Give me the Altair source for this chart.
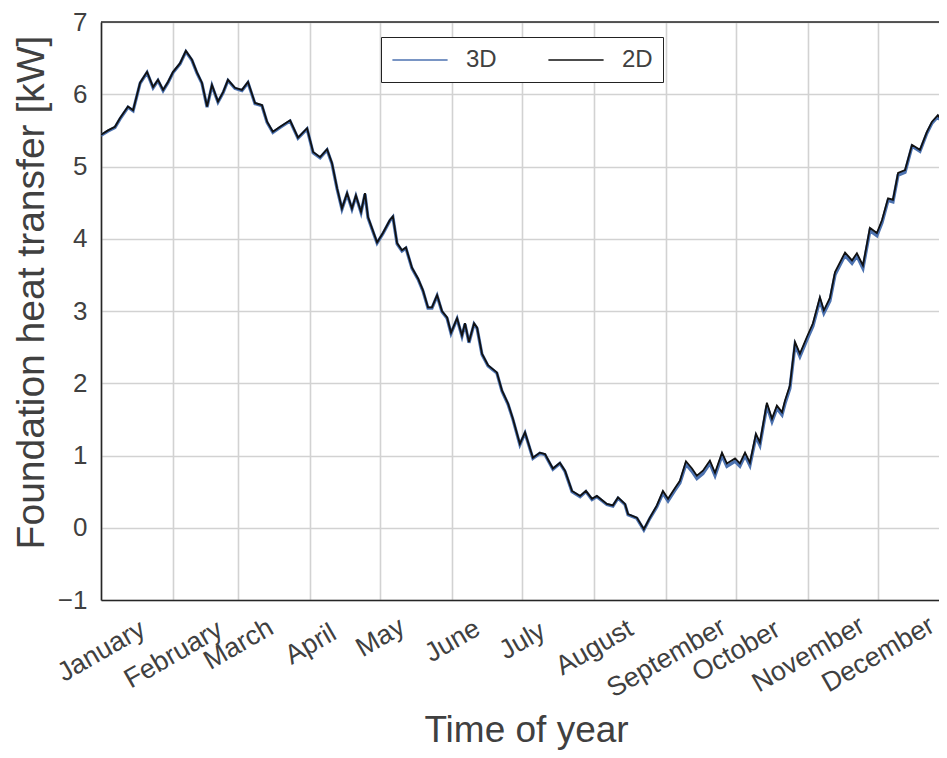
import altair as alt
import pandas as pd

# ---- data ----
days = [0, 3.0, 6.0, 8.2, 11.6, 13.8, 16.8, 19.8, 22.4, 24.5, 26.7, 28.8, 31.0, 34.0, 36.5,
        39.1, 41.3, 43.4, 45.6, 47.7, 50.3, 52.5, 54.6, 57.6, 60.6, 63.2, 66.2, 69.2, 71.4,
        73.9, 77.0, 81.3, 84.7, 88.6, 91.2, 94.2, 97.2, 99.3, 101.5, 103.6, 105.8, 107.9,
        109.6, 111.8, 113.5, 114.8, 118.7, 121.2, 124.2, 125.5, 127.3, 129.4, 131.1, 133.7,
        136.3, 138.4, 140.6, 142.3, 144.5, 146.6, 148.8, 150.5, 153.1, 155.2, 156.5, 158.2,
        160.4, 161.7, 163.8, 166.4, 170.2, 172.4, 175.0, 177.1, 180.1, 182.3, 185.7, 188.7,
        190.9, 194.3, 197.3, 199.5, 202.5, 206.0, 208.5, 211.1, 213.2, 217.5, 220.1, 222.3,
        225.3, 226.6, 230.4, 233.4, 236.0, 239.0, 241.6, 243.8, 246.8, 248.9, 251.5, 254.1,
        256.2, 258.8, 261.8, 264.0, 267.0, 269.1, 272.6, 274.7, 276.9, 279.0, 281.6, 283.3,
        286.3, 288.5, 290.6, 292.8, 294.1, 296.2, 298.4, 300.5, 303.5, 306.1, 309.1, 310.8,
        313.4, 315.6, 319.9, 322.9, 325.0, 327.6, 330.6, 333.6, 335.8, 338.4, 340.5, 342.7,
        345.7, 348.7, 352.1, 355.1, 357.3, 359.8, 361.9, 363.7]

heat_2d = [5.44, 5.50, 5.55, 5.67, 5.83, 5.78, 6.16, 6.31, 6.10, 6.20, 6.06, 6.17, 6.31, 6.43,
           6.60, 6.48, 6.30, 6.16, 5.83, 6.13, 5.90, 6.03, 6.20, 6.09, 6.06, 6.17, 5.88, 5.85,
           5.62, 5.48, 5.55, 5.64, 5.40, 5.53, 5.20, 5.13, 5.24, 5.05, 4.70, 4.42, 4.63, 4.42,
           4.60, 4.37, 4.63, 4.30, 3.95, 4.08, 4.26, 4.31, 3.94, 3.84, 3.88, 3.60, 3.45, 3.29,
           3.05, 3.05, 3.22, 3.00, 2.91, 2.70, 2.90, 2.66, 2.83, 2.57, 2.83, 2.77, 2.41, 2.25,
           2.15, 1.90, 1.72, 1.51, 1.16, 1.32, 0.97, 1.04, 1.02, 0.82, 0.90, 0.79, 0.51, 0.44,
           0.51, 0.40, 0.44, 0.33, 0.31, 0.42, 0.33, 0.19, 0.14, -0.02, 0.14, 0.31, 0.51, 0.40,
           0.55, 0.65, 0.92, 0.82, 0.72, 0.79, 0.93, 0.76, 1.04, 0.89, 0.96, 0.89, 1.04, 0.90,
           1.30, 1.18, 1.73, 1.51, 1.69, 1.60, 1.76, 1.97, 2.57, 2.41, 2.64, 2.83, 3.19, 3.01,
           3.18, 3.54, 3.81, 3.70, 3.80, 3.63, 4.15, 4.08, 4.26, 4.56, 4.54, 4.91, 4.95, 5.30,
           5.23, 5.48, 5.62, 5.71, 5.62, 5.55]

heat_3d = [5.43, 5.49, 5.54, 5.66, 5.82, 5.77, 6.15, 6.30, 6.09, 6.19, 6.05, 6.16, 6.30, 6.42,
           6.59, 6.47, 6.29, 6.15, 5.82, 6.12, 5.89, 6.02, 6.19, 6.08, 6.05, 6.16, 5.87, 5.84,
           5.61, 5.47, 5.54, 5.63, 5.39, 5.52, 5.19, 5.12, 5.23, 5.04, 4.69, 4.41, 4.62, 4.41,
           4.59, 4.36, 4.62, 4.29, 3.94, 4.07, 4.25, 4.30, 3.93, 3.83, 3.87, 3.59, 3.44, 3.28,
           3.04, 3.04, 3.21, 2.99, 2.90, 2.69, 2.89, 2.65, 2.82, 2.56, 2.82, 2.76, 2.40, 2.24,
           2.14, 1.89, 1.71, 1.50, 1.15, 1.31, 0.96, 1.03, 1.01, 0.81, 0.89, 0.78, 0.50, 0.43,
           0.50, 0.39, 0.43, 0.32, 0.30, 0.41, 0.32, 0.18, 0.13, -0.03, 0.13, 0.29, 0.48, 0.37,
           0.52, 0.62, 0.88, 0.78, 0.68, 0.75, 0.89, 0.72, 1.00, 0.85, 0.92, 0.85, 1.00, 0.86,
           1.26, 1.14, 1.69, 1.47, 1.65, 1.56, 1.72, 1.93, 2.53, 2.37, 2.60, 2.79, 3.15, 2.97,
           3.14, 3.50, 3.77, 3.66, 3.76, 3.59, 4.11, 4.04, 4.22, 4.53, 4.51, 4.88, 4.92, 5.28,
           5.21, 5.46, 5.60, 5.69, 5.60, 5.53]

month_names = ["January", "February", "March", "April", "May", "June", "July",
               "August", "September", "October", "November", "December"]
month_starts = [0, 31, 59, 90, 120, 151, 181, 212, 243, 273, 304, 334]
y_ticks = [-1, 0, 1, 2, 3, 4, 5, 6, 7]
series_names = ["3D", "2D"]
series_colors = ["#4c72b0", "#111111"]

assert len(days) == len(heat_2d) == len(heat_3d)
n = len(days)
df = pd.DataFrame({
    "day": days + days,
    "heat": heat_3d + heat_2d,
    "series": [series_names[0]] * n + [series_names[1]] * n,
})

FONT = "Liberation Sans"
TEXT = "#404040"
GRID = "#d2d2d2"
SPINE = "#262626"

names_js = "[" + ",".join("'" + m + "'" for m in month_names) + "]"
starts_js = "[" + ",".join(str(s) for s in month_starts) + "]"
label_expr = names_js + "[indexof(" + starts_js + ", datum.value)]"
pad_expr = "27 + 3.4 * length(" + label_expr + ")"

x_enc = alt.X(
    "day:Q",
    scale=alt.Scale(domain=[0, 360.3], nice=False, zero=False),
    axis=alt.Axis(
        values=month_starts, labelExpr=label_expr, labelAngle=-30,
        labelAlign="center", labelBaseline="middle",
        labelPadding={"condition": {"test": "false", "value": 0}, "expr": pad_expr},
        labelFlush=False, labelOverlap=False, ticks=False,
        grid=True, gridColor=GRID, gridWidth=1.6,
        domainColor=SPINE, domainWidth=1.6,
        labelFont=FONT, labelFontSize=27, labelColor=TEXT,
        title="Time of year", titleFont=FONT, titleFontSize=37, titleFontWeight="normal",
        titleColor=TEXT, titleX=425, titleY=141, titleAlign="center",
        titleBaseline="alphabetic",
    ),
)
y_enc = alt.Y(
    "heat:Q",
    scale=alt.Scale(domain=[-1, 7], nice=False, zero=False),
    axis=alt.Axis(
        values=y_ticks, format="d", ticks=False, labelPadding=14,
        grid=True, gridColor=GRID, gridWidth=1.6,
        domainColor=SPINE, domainWidth=1.6,
        labelFont=FONT, labelFontSize=26, labelColor=TEXT,
        title="Foundation heat transfer [kW]", titleFont=FONT, titleFontSize=39,
        titleFontWeight="normal", titleColor=TEXT, titleAngle=270,
        titleX=-58, titleY=270, titleAlign="center", titleBaseline="alphabetic",
    ),
)
color_enc = alt.Color(
    "series:N",
    scale=alt.Scale(domain=series_names, range=series_colors),
    sort=series_names,
    legend=alt.Legend(
        orient="none", legendX=280, legendY=15, direction="horizontal", title=None,
        symbolType="M-2.3,0H2.3", symbolSize=576, symbolStrokeWidth=1.5,
        symbolOffset=16, labelFont=FONT, labelFontSize=24, labelColor=TEXT,
        labelOffset=33, columnPadding=48, padding=10,
        fillColor="white", strokeColor="#222222",
    ),
)

base = alt.Chart(df)
line3d = base.transform_filter("datum.series == '3D'").mark_line(
    strokeWidth=3.2, clip=True).encode(x=x_enc, y=y_enc, color=color_enc)
line2d = base.transform_filter("datum.series == '2D'").mark_line(
    strokeWidth=1.8, clip=True).encode(x=x_enc, y=y_enc, color=color_enc)
top_spine = alt.Chart(pd.DataFrame({"v": [7]})).mark_rule(
    color=SPINE, strokeWidth=1.6).encode(y=alt.datum(7))

chart = alt.layer(line3d, line2d, top_spine).properties(
    width=838, height=578,
    autosize=alt.AutoSizeParams(type="none"),
    padding={"left": 93, "top": 14, "right": 0, "bottom": 150},
).configure(font=FONT).configure_view(stroke=None)

chart.save("out.html", embed_options={"renderer": "svg", "actions": False})
